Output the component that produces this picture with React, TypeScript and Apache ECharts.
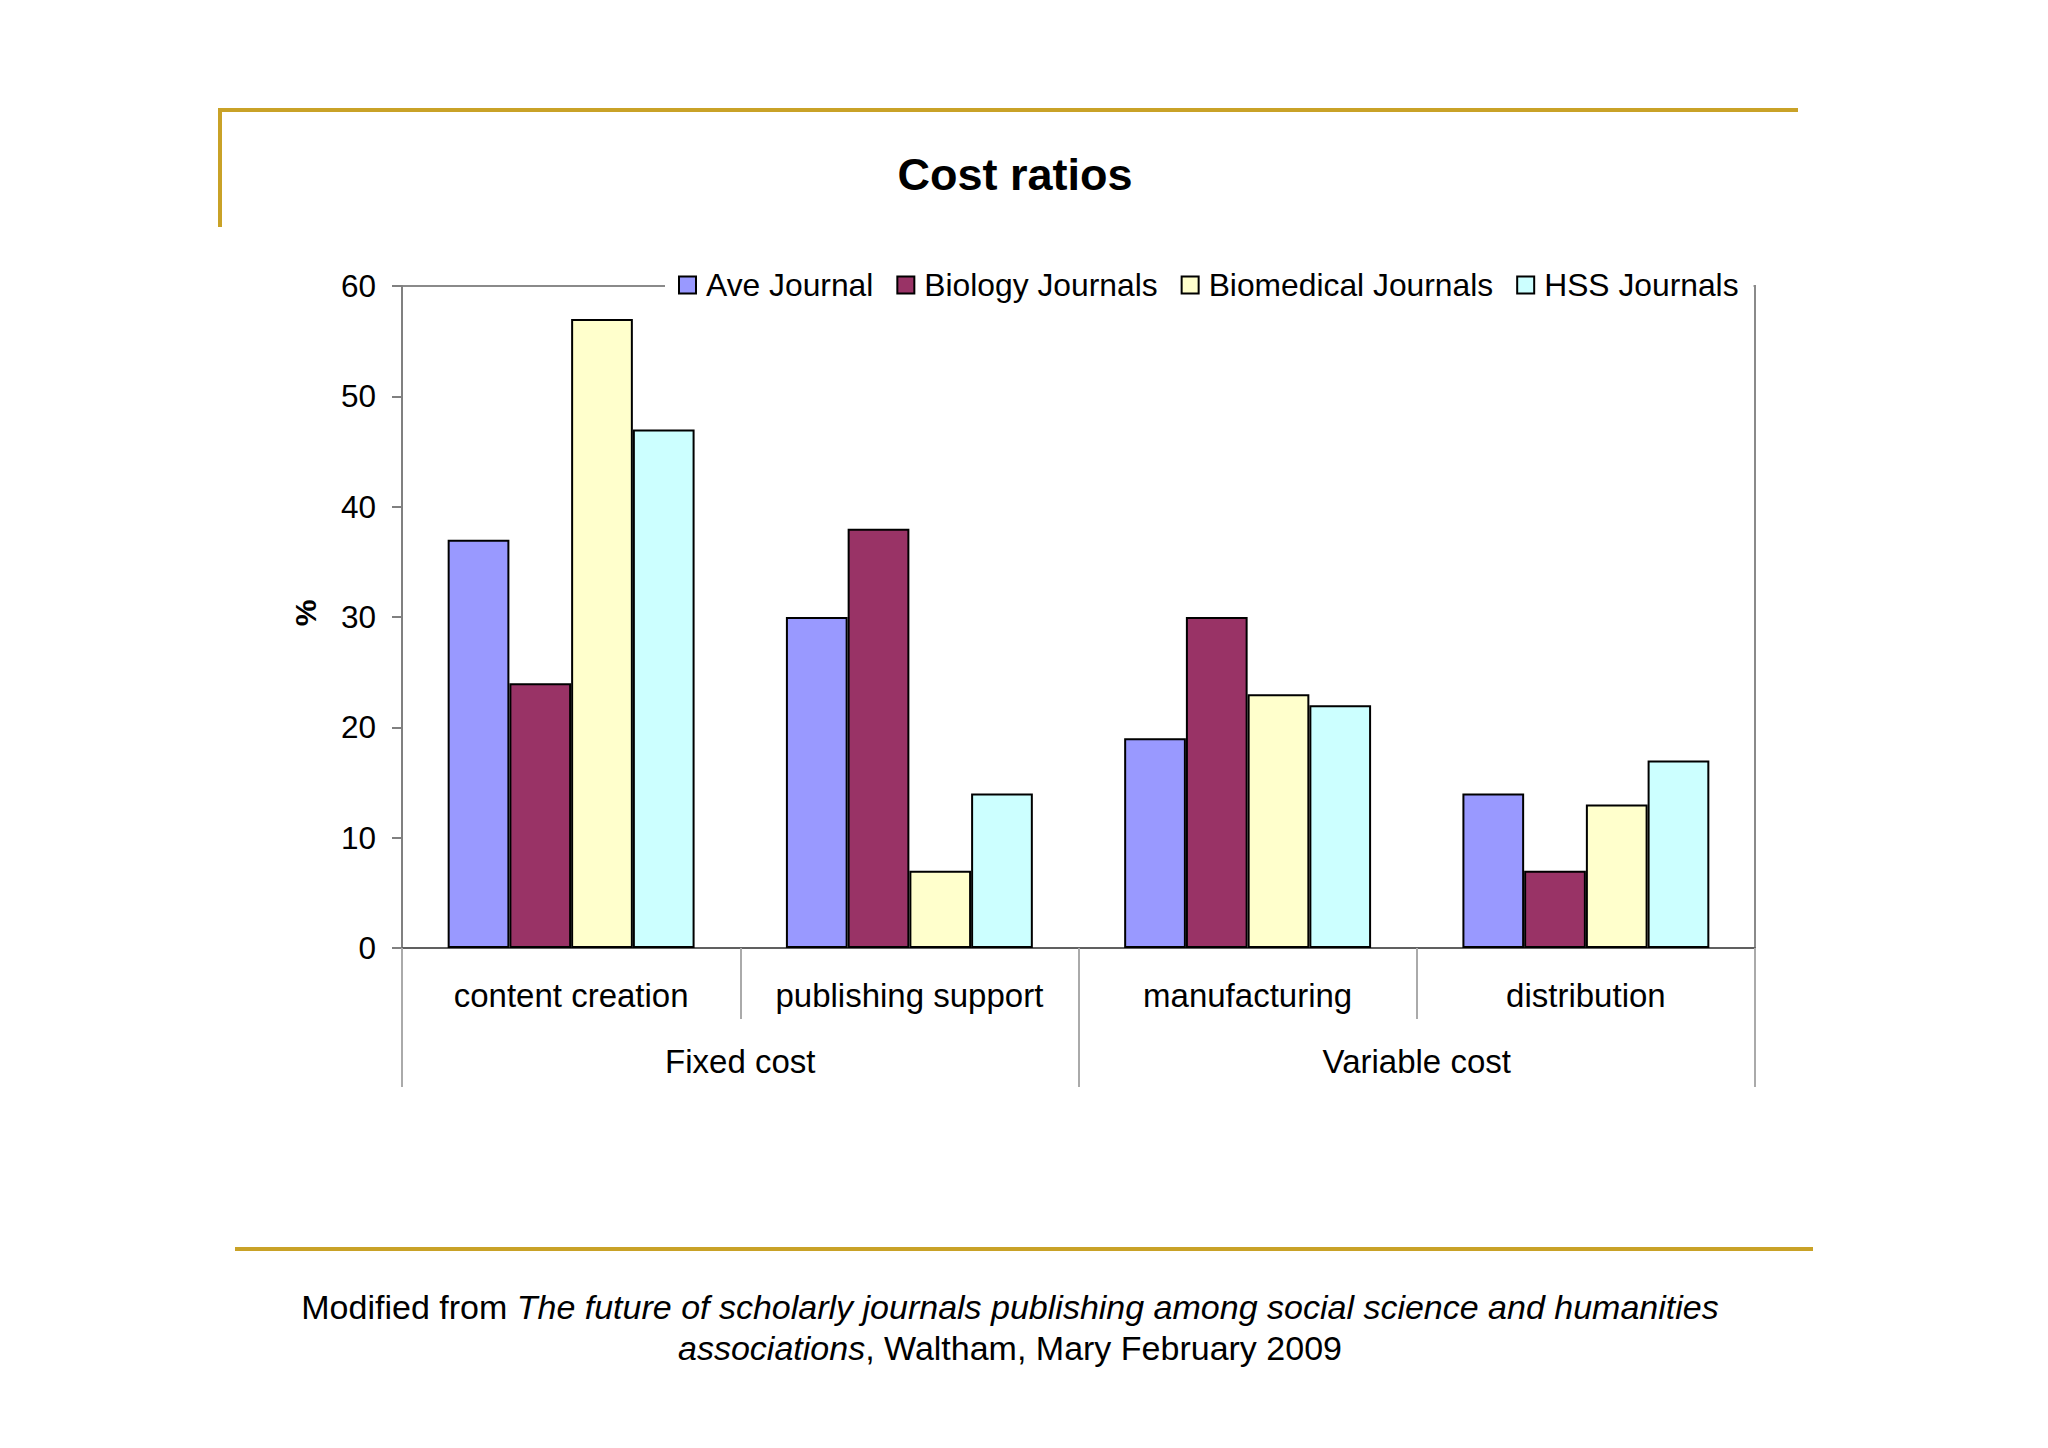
import React, { useEffect, useRef } from "react";
import * as echarts from "echarts";

const categories = ["content creation", "publishing support", "manufacturing", "distribution"];
const groups = ["Fixed cost", "Variable cost"];
const seriesNames = ["Ave Journal", "Biology Journals", "Biomedical Journals", "HSS Journals"];
const aveJournal = [37, 30, 19, 14];
const biologyJournals = [24, 38, 30, 7];
const biomedicalJournals = [57, 7, 23, 13];
const hssJournals = [47, 14, 22, 17];
const seriesColors = ["#9999FF", "#993366", "#FFFFCC", "#CCFFFF"];
const yTicks = { min: 0, max: 60, interval: 10 };

const FONT = "'Liberation Sans', Arial, Helvetica, sans-serif";
const GOLD = "#C9A227";

export default function App() {
  const ref = useRef<HTMLDivElement>(null);
  useEffect(() => {
    if (!ref.current) return;
    const chart = echarts.init(ref.current, undefined, { renderer: "svg" });
    const values = [aveJournal, biologyJournals, biomedicalJournals, hssJournals];
    const option: any = {
      animation: false,
      backgroundColor: "#ffffff",
      textStyle: { fontFamily: FONT },
      grid: {
        left: 402,
        right: 293,
        top: 286,
        bottom: 500,
        show: true,
        borderColor: "#8a8a8a",
        borderWidth: 2,
        backgroundColor: "transparent",
      },
      legend: {
        left: 665,
        top: 265,
        padding: [4, 15, 4, 13],
        backgroundColor: "#ffffff",
        itemWidth: 17,
        itemHeight: 17,
        itemGap: 23,
        icon: "rect",
        textStyle: { fontSize: 31.8, color: "#000", fontFamily: FONT, padding: [0, 0, 0, 5] },
        data: seriesNames,
      },
      xAxis: [
        {
          type: "category",
          data: categories,
          position: "bottom",
          axisLine: { show: true, lineStyle: { color: "#606060", width: 2 } },
          axisTick: { show: true, interval: 0, length: 71, lineStyle: { color: "#aaaaaa", width: 2 } },
          axisLabel: { interval: 0, margin: 31, fontSize: 33, color: "#000", fontFamily: FONT },
          splitLine: { show: false },
        },
        {
          type: "category",
          data: groups,
          position: "bottom",
          axisLine: { show: false },
          axisTick: { show: true, interval: 0, length: 139, lineStyle: { color: "#aaaaaa", width: 2 } },
          axisLabel: { interval: 0, margin: 97, fontSize: 33, color: "#000", fontFamily: FONT },
          splitLine: { show: false },
        },
      ],
      yAxis: {
        type: "value",
        min: yTicks.min,
        max: yTicks.max,
        interval: yTicks.interval,
        axisLine: { show: true, lineStyle: { color: "#808080", width: 2 } },
        axisTick: { show: true, length: 10, lineStyle: { color: "#808080", width: 2 } },
        axisLabel: { margin: 26, fontSize: 31.5, color: "#000", fontFamily: FONT },
        splitLine: { show: false },
      },
      series: seriesNames.map((name, i) => ({
        name,
        type: "bar",
        xAxisIndex: 0,
        data: values[i],
        barGap: "0%",
        barCategoryGap: "27%",
        itemStyle: { color: seriesColors[i], borderColor: "#000", borderWidth: 2 },
      })),
      graphic: [
        { type: "line", shape: { x1: 220, y1: 110, x2: 1798, y2: 110 }, style: { stroke: GOLD, lineWidth: 4 } },
        { type: "line", shape: { x1: 220, y1: 108, x2: 220, y2: 227 }, style: { stroke: GOLD, lineWidth: 4 } },
        { type: "line", shape: { x1: 235, y1: 1249, x2: 1813, y2: 1249 }, style: { stroke: GOLD, lineWidth: 4 } },
        {
          type: "text",
          x: 1015,
          y: 174,
          style: {
            text: "Cost ratios",
            fontSize: 45,
            fontWeight: "bold",
            fontFamily: FONT,
            fill: "#000",
            align: "center",
            verticalAlign: "middle",
          },
        },
        {
          type: "text",
          x: 305,
          y: 613,
          rotation: Math.PI / 2,
          style: {
            text: "%",
            fontSize: 30,
            fontWeight: "bold",
            fontFamily: FONT,
            fill: "#000",
            align: "center",
            verticalAlign: "middle",
          },
        },
        {
          type: "text",
          x: 1010,
          y: 1327,
          style: {
            text:
              "{n|Modified from }{i|The future of scholarly journals publishing among social science and humanities}\n{i|associations}{n|, Waltham, Mary February 2009}",
            align: "center",
            verticalAlign: "middle",
            fill: "#000",
            rich: {
              n: { fontSize: 34, fontFamily: FONT, lineHeight: 41, fill: "#000" },
              i: { fontSize: 34, fontFamily: FONT, fontStyle: "italic", lineHeight: 41, fill: "#000" },
            },
          },
        },
      ],
    };
    chart.setOption(option);
    return () => chart.dispose();
  }, []);
  return (
    <div
      ref={ref}
      style={{ position: "absolute", left: 0, top: 0, width: 2048, height: 1448, background: "#fff" }}
    />
  );
}
